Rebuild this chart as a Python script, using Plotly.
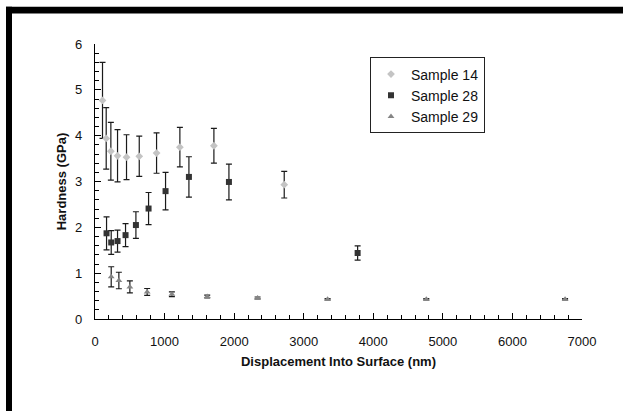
import plotly.graph_objects as go

# Nanoindentation hardness vs. displacement into surface
s14_x = [108, 161, 228, 324, 453, 636, 885, 1220, 1709, 2720]
s14_y = [4.77, 3.94, 3.66, 3.56, 3.53, 3.55, 3.62, 3.75, 3.78, 2.93]
s14_err = [0.83, 0.67, 0.63, 0.57, 0.49, 0.44, 0.44, 0.43, 0.38, 0.29]

s28_x = [166, 233, 324, 439, 588, 770, 1014, 1350, 1925, 3775]
s28_y = [1.87, 1.67, 1.70, 1.83, 2.05, 2.41, 2.79, 3.10, 2.99, 1.44]
s28_err = [0.36, 0.26, 0.24, 0.25, 0.29, 0.35, 0.41, 0.44, 0.39, 0.155]

s29_x = [233, 343, 501, 750, 1105, 1613, 2337, 3343, 4762, 6757]
s29_y = [0.92, 0.84, 0.70, 0.59, 0.54, 0.49, 0.46, 0.43, 0.43, 0.43]
s29_err = [0.22, 0.18, 0.13, 0.075, 0.05, 0.03, 0.02, 0.015, 0.015, 0.015]

W, H = 623, 411
ML, MR, MT, MB = 95, 41, 43.5, 91.5
PW, PH = W - ML - MR, H - MT - MB

FONT = "Liberation Sans, Arial, sans-serif"


def err(vals, color):
    return dict(type="data", array=vals, visible=True, color=color,
                thickness=1.2, width=3)


fig = go.Figure()
fig.add_trace(go.Scatter(
    x=s14_x, y=s14_y, mode="markers", name="Sample 14",
    marker=dict(symbol="diamond", size=6, color="#c4c4c4"),
    error_y=err(s14_err, "#1a1a1a")))
fig.add_trace(go.Scatter(
    x=s28_x, y=s28_y, mode="markers", name="Sample 28",
    marker=dict(symbol="square", size=6, color="#333333"),
    error_y=err(s28_err, "#1a1a1a")))
fig.add_trace(go.Scatter(
    x=s29_x, y=s29_y, mode="markers", name="Sample 29",
    marker=dict(symbol="triangle-up", size=6, color="#858585"),
    error_y=err(s29_err, "#1a1a1a")))


def px_x(p):
    return (p - ML) / PW


def px_y(p):
    return (H - MB - p) / PH


# heavy frame on the left and top edges of the page
shapes = [
    dict(type="rect", xref="paper", yref="paper",
         x0=px_x(6), x1=px_x(12), y0=px_y(H + 5), y1=px_y(6),
         fillcolor="black", line_width=0, layer="above"),
    dict(type="rect", xref="paper", yref="paper",
         x0=px_x(6), x1=px_x(W + 5), y0=px_y(13), y1=px_y(6),
         fillcolor="black", line_width=0, layer="above"),
]

axis_common = dict(
    showgrid=False, zeroline=False, showline=True, linecolor="black",
    linewidth=1.3, ticks="inside", ticklen=6, tickwidth=1.3,
    tickcolor="black", mirror=False,
    tickfont=dict(family=FONT, size=13, color="#111111"),
)

fig.update_layout(
    width=W, height=H,
    margin=dict(l=ML, r=MR, t=MT, b=MB, pad=0),
    paper_bgcolor="white", plot_bgcolor="white",
    showlegend=True,
    legend=dict(
        x=px_x(370), y=px_y(57), xanchor="left", yanchor="top",
        bgcolor="white", bordercolor="#222222", borderwidth=1,
        font=dict(family=FONT, size=14, color="#111111"),
        itemwidth=30, tracegroupgap=0,
    ),
    xaxis=dict(
        range=[0, 7000], tickvals=[0, 1000, 2000, 3000, 4000, 5000, 6000, 7000],
        minor=dict(dtick=200, ticks="inside", ticklen=4, tickcolor="black",
                   tickwidth=1),
        ticklabelstandoff=10,
        title=dict(text="<b>Displacement Into Surface (nm)</b>",
                   font=dict(family=FONT, size=13, color="#111111"),
                   standoff=9),
        **axis_common,
    ),
    yaxis=dict(
        range=[0, 6], tickvals=[0, 1, 2, 3, 4, 5, 6],
        minor=dict(dtick=0.2, ticks="inside", ticklen=4, tickcolor="black",
                   tickwidth=1),
        ticklabelstandoff=9,
        title=dict(text="<b>Hardness (GPa)</b>",
                   font=dict(family=FONT, size=13, color="#111111"),
                   standoff=5),
        **axis_common,
    ),
    shapes=shapes,
)

fig.write_html("out.html")
